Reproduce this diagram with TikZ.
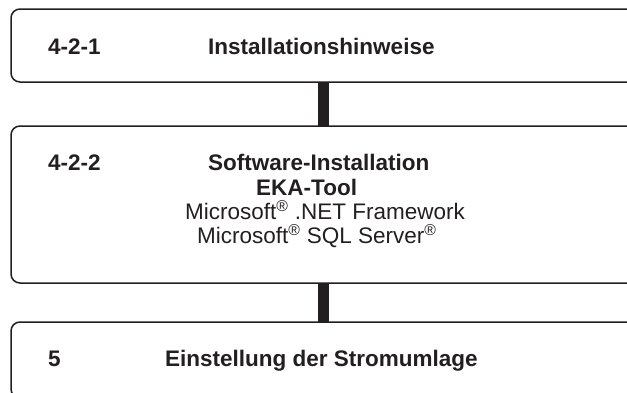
\documentclass[tikz,border=0pt]{standalone}
\usepackage{fontspec}
\setmainfont{Liberation Sans}
\definecolor{ink}{HTML}{231F20}
\tikzset{
  box/.style={draw=ink,line width=1.5pt,rounded corners=9pt},
  link/.style={draw=ink,line width=11pt},
  num/.style={anchor=base west,inner sep=0pt,font=\fontsize{22.5}{27}\selectfont\bfseries,text=ink},
  title/.style={num},
  sub/.style={anchor=base west,inner sep=0pt,font=\fontsize{22.5}{27}\selectfont,text=ink}
}
\begin{document}
\begin{tikzpicture}[x=1pt,y=-1pt]
  \useasboundingbox (0,0) rectangle (627,392);

  % the three steps, open to the right
  \draw[box] (640,9) -- (11,9) -- (11,82) -- (640,82);
  \draw[box] (640,126) -- (11,126) -- (11,283) -- (640,283);
  \draw[box] (640,322) -- (11,322) -- (11,398) -- (640,398);

  \coordinate (s1b) at (323.5,82);
  \coordinate (s2t) at (323.5,126);
  \coordinate (s2b) at (323.5,283);
  \coordinate (s3t) at (323.5,322);

  \draw[link] (s1b) -- (s2t);
  \draw[link] (s2b) -- (s3t);

  \node[num] (n1) at (48,54) {4-2-1};
  \node[title] (t1) at (208,54) {Installationshinweise};

  \node[num] (n2) at (48,170) {4-2-2};
  \node[title] (t2) at (208,170) {Software-Installation};
  \node[title] (t2b) at (256,195) {EKA-Tool};
  \node[sub] (m1) at (185,219) {Microsoft\textsuperscript{®} .NET Framework};
  \node[sub] (m2) at (197,243) {Microsoft\textsuperscript{®} SQL Server\textsuperscript{®}};

  \node[num] (n3) at (48,366) {5};
  \node[title] (t3) at (165,366) {Einstellung der Stromumlage};
\end{tikzpicture}
\end{document}
